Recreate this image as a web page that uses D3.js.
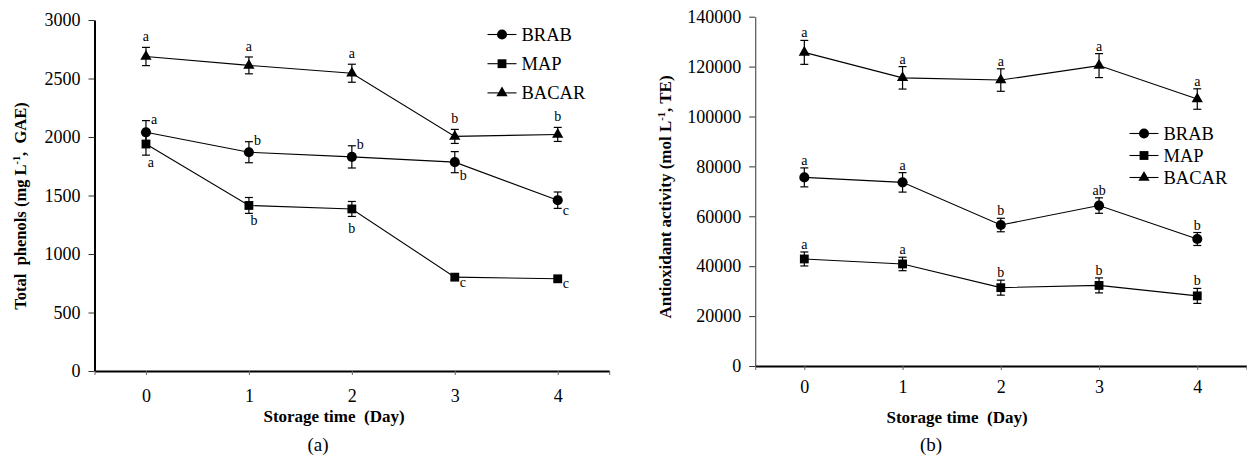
<!DOCTYPE html>
<html>
<head>
<meta charset="utf-8">
<script src="https://cdn.jsdelivr.net/npm/d3@7"></script>
<style>
  html, body { margin: 0; padding: 0; background: #fff; }
  svg { display: block; font-family: "Liberation Serif", "Times New Roman", serif; }
</style>
</head>
<body>
<svg id="chart" width="1247" height="462"></svg>
<script>
// ---------------- DATA ----------------
const days = [0, 1, 2, 3, 4];
const seriesNames = ["BRAB", "MAP", "BACAR"];

// Panel (a) Total phenols (mg L-1, GAE)
const phenolTicks = [0, 500, 1000, 1500, 2000, 2500, 3000];
const phenolBRAB = [2040, 1870, 1830, 1785, 1460];
const phenolBRABErr = [100, 90, 95, 90, 70];
const phenolMAP = [1940, 1415, 1385, 802, 788];
const phenolMAPErr = [95, 68, 64, 25, 22];
const phenolBACAR = [2688, 2612, 2545, 2005, 2022];
const phenolBACARErr = [78, 72, 77, 60, 60];
const phenolBRABLetters = ["a", "b", "b", "b", "c"];
const phenolMAPLetters = ["a", "b", "b", "c", "c"];
const phenolBACARLetters = ["a", "a", "a", "b", "b"];

// Panel (b) Antioxidant activity (mol L-1, TE)
const antioxTicks = [0, 20000, 40000, 60000, 80000, 100000, 120000, 140000];
const antioxBRAB = [75600, 73600, 56500, 64300, 50900];
const antioxBRABErr = [3800, 3900, 2700, 3100, 2600];
const antioxMAP = [42900, 40900, 31400, 32300, 28100];
const antioxMAPErr = [2800, 2700, 3000, 3000, 3000];
const antioxBACAR = [125700, 115500, 114600, 120400, 107000];
const antioxBACARErr = [4800, 4500, 4500, 4800, 4100];
const antioxBRABLetters = ["a", "a", "b", "ab", "b"];
const antioxMAPLetters = ["a", "a", "b", "b", "b"];
const antioxBACARLetters = ["a", "a", "a", "a", "a"];

// -------------- LAYOUT (label placement codes, not data) --------------
const phenolPlacement = {
  BRAB: ["ur", "ur", "ur", "lr", "lr"],
  MAP: ["below", "below", "belowFar", "lr", "lr"],
  BACAR: ["above", "above", "above", "above", "above"]
};
const antioxPlacement = {
  BRAB: ["above", "above", "above", "above", "above"],
  MAP: ["above", "above", "above", "above", "above"],
  BACAR: ["above", "above", "above", "above", "above"]
};

const symbols = { BRAB: d3.symbolCircle, MAP: d3.symbolSquare, BACAR: d3.symbolTriangle };
const symbolSizes = { BRAB: 80, MAP: 78, BACAR: 55 };

const svg = d3.select("#chart");

function drawPanel(cfg) {
  const g = svg.append("g");
  const x = d3.scaleLinear().domain([-0.5, 4.5]).range(cfg.xRange);
  const y = d3.scaleLinear().domain([cfg.yTicks[0], cfg.yTicks[cfg.yTicks.length - 1]]).range(cfg.yRange);

  // Y axis
  const ya = g.append("g").attr("transform", `translate(${cfg.xRange[0]},0)`)
    .call(d3.axisLeft(y).tickValues(cfg.yTicks).tickFormat(d3.format("d")).tickSize(6).tickSizeOuter(0).tickPadding(8));
  ya.select(".domain").attr("stroke", cfg.yAxisColor).attr("stroke-width", cfg.yAxisWidth);
  ya.selectAll(".tick line").attr("stroke", "#333").attr("stroke-width", 1);
  ya.selectAll(".tick text").attr("font-size", 18).attr("fill", "#000")
    .attr("font-family", "Liberation Serif, Times New Roman, serif");

  // X axis
  const xa = g.append("g").attr("transform", `translate(0,${cfg.yRange[0]})`)
    .call(d3.axisBottom(x).tickValues([-0.5].concat(days, [4.5]))
      .tickFormat(d => days.includes(d) ? String(d) : "")
      .tickSize(4).tickSizeOuter(0).tickPadding(cfg.xTickPad));
  xa.select(".domain").attr("stroke", "#000").attr("stroke-width", 2);
  xa.selectAll(".tick line").attr("stroke", "#666").attr("stroke-width", 1);
  xa.selectAll(".tick text").attr("font-size", 18).attr("fill", "#000")
    .attr("font-family", "Liberation Serif, Times New Roman, serif");

  // series
  cfg.series.forEach(s => {
    const pts = days.map((d, i) => ({ d, v: s.values[i], e: s.err[i], l: s.letters[i], p: s.place[i] }));
    const line = d3.line().x(p => x(p.d)).y(p => y(p.v));
    g.append("path").datum(pts).attr("d", line).attr("fill", "none")
      .attr("stroke", "#000").attr("stroke-width", 1.1);

    const eb = g.append("g").attr("stroke", "#000").attr("stroke-width", 1.2);
    pts.forEach(p => {
      const cx = x(p.d), t = y(p.v + p.e), b = y(p.v - p.e);
      eb.append("line").attr("x1", cx).attr("x2", cx).attr("y1", t).attr("y2", b);
      eb.append("line").attr("x1", cx - 4).attr("x2", cx + 4).attr("y1", t).attr("y2", t);
      eb.append("line").attr("x1", cx - 4).attr("x2", cx + 4).attr("y1", b).attr("y2", b);
    });

    g.append("g").selectAll("path").data(pts).join("path")
      .attr("transform", p => `translate(${x(p.d)},${y(p.v)})`)
      .attr("d", d3.symbol().type(symbols[s.name]).size(symbolSizes[s.name]))
      .attr("fill", "#000");

    g.append("g").selectAll("text").data(pts).join("text")
      .attr("font-size", 14).attr("fill", "#000")
      .attr("text-anchor", p => (p.p === "ur" || p.p === "lr") ? "start" : "middle")
      .attr("x", p => {
        const cx = x(p.d);
        if (p.p === "ur") return cx + 5;
        if (p.p === "lr") return cx + 5;
        if (p.p === "below") return cx + 5;
        return cx;
      })
      .attr("y", p => {
        const t = y(p.v + p.e), b = y(p.v - p.e);
        if (p.p === "above") return t + cfg.aboveDy;
        if (p.p === "ur") return t + 3;
        if (p.p === "lr") return b + 7;
        if (p.p === "belowFar") return b + 17;
        return b + 12;
      })
      .text(p => p.l);
  });

  // legend
  const lg = g.append("g");
  seriesNames.forEach((n, i) => {
    const ly = cfg.legend.y + i * cfg.legend.dy;
    lg.append("line").attr("x1", cfg.legend.x).attr("x2", cfg.legend.x + 29)
      .attr("y1", ly).attr("y2", ly).attr("stroke", "#000").attr("stroke-width", 1.1);
    lg.append("path").attr("transform", `translate(${cfg.legend.x + 14.5},${ly})`)
      .attr("d", d3.symbol().type(symbols[n]).size(symbolSizes[n])).attr("fill", "#000");
    lg.append("text").attr("x", cfg.legend.x + 34).attr("y", ly).attr("dy", "0.35em")
      .attr("font-size", cfg.legend.fs).attr("fill", "#000").text(n);
  });

  // x title
  g.append("text").attr("x", cfg.xTitle.x).attr("y", cfg.xTitle.y)
    .attr("text-anchor", "middle").attr("font-weight", "bold").attr("font-size", 17)
    .style("white-space", "pre").text("Storage time  (Day)");
  // panel label
  g.append("text").attr("x", cfg.panel.x).attr("y", cfg.panel.y)
    .attr("text-anchor", "middle").attr("font-size", 19).text(cfg.panel.t);

  // y title
  const yt = g.append("text")
    .attr("transform", `translate(${cfg.yTitle.x},${cfg.yTitle.y}) rotate(-90)`)
    .attr("text-anchor", "middle").attr("font-weight", "bold").attr("font-size", cfg.yTitle.fs)
    .style("white-space", "pre");
  yt.append("tspan").text(cfg.yTitle.a);
  yt.append("tspan").attr("font-size", cfg.yTitle.fs * 0.62).attr("dy", -cfg.yTitle.fs * 0.38).text("-1");
  yt.append("tspan").attr("dy", cfg.yTitle.fs * 0.38).text(cfg.yTitle.b);
}

drawPanel({
  xRange: [94.5, 609.2],
  yRange: [371, 20],
  yTicks: phenolTicks,
  yAxisColor: "#000",
  yAxisWidth: 2,
  xTickPad: 14,
  aboveDy: -6,
  series: [
    { name: "BRAB", values: phenolBRAB, err: phenolBRABErr, letters: phenolBRABLetters, place: phenolPlacement.BRAB },
    { name: "MAP", values: phenolMAP, err: phenolMAPErr, letters: phenolMAPLetters, place: phenolPlacement.MAP },
    { name: "BACAR", values: phenolBACAR, err: phenolBACARErr, letters: phenolBACARLetters, place: phenolPlacement.BACAR }
  ],
  legend: { x: 487.5, y: 34.5, dy: 29.2, fs: 18.5 },
  xTitle: { x: 334, y: 422 },
  panel: { x: 318, y: 451, t: "(a)" },
  yTitle: { x: 26, y: 206, fs: 16.5, a: "Total  phenols (mg L", b: ",  GAE)" }
});

drawPanel({
  xRange: [755.2, 1246.4],
  yRange: [366, 16.7],
  yTicks: antioxTicks,
  yAxisColor: "#555",
  yAxisWidth: 1.2,
  xTickPad: 10,
  aboveDy: -3,
  series: [
    { name: "BRAB", values: antioxBRAB, err: antioxBRABErr, letters: antioxBRABLetters, place: antioxPlacement.BRAB },
    { name: "MAP", values: antioxMAP, err: antioxMAPErr, letters: antioxMAPLetters, place: antioxPlacement.MAP },
    { name: "BACAR", values: antioxBACAR, err: antioxBACARErr, letters: antioxBACARLetters, place: antioxPlacement.BACAR }
  ],
  legend: { x: 1129.5, y: 133.5, dy: 22, fs: 18.5 },
  xTitle: { x: 957, y: 423 },
  panel: { x: 931, y: 451, t: "(b)" },
  yTitle: { x: 671, y: 197, fs: 17, a: "Antioxidant activity (mol L", b: ", TE)" }
});
</script>
</body>
</html>
